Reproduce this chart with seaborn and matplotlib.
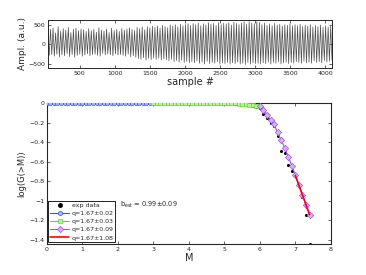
import numpy as np
import matplotlib
matplotlib.use("Agg")
import matplotlib.pyplot as plt
import seaborn as sns

# --- top panel: waveform, alternating peak / trough amplitudes
amp = [
    310, -280, 380, -260, 420, -300, 290, -250, 450, -320, 340, -270, 400, -290, 360, -240,
    430, -310, 300, -260, 380, -330, 410, -280, 350, -250, 390, -300,
    370, -270, 330, -240, 400, -290, 350, -260, 380, -250, 310, -280, 420, -300, 360, -230,
    340, -270, 390, -250, 300, -260, 410, -290, 350, -240, 380, -270,
    330, -260, 400, -280, 360, -300, 390, -250, 420, -320, 380, -290, 350, -330, 430, -360,
    400, -380, 440, -340, 370, -400, 450, -360, 420, -390, 460, -350,
    430, -380, 470, -350, 410, -400, 480, -370, 450, -390, 420, -420, 490, -380, 460, -440,
    500, -410, 440, -450, 510, -400, 470, -460, 500, -430, 520, -470,
    480, -440, 530, -470, 500, -420, 540, -480, 470, -450, 520, -500, 490, -430, 550, -490,
    510, -460, 530, -480, 480, -440, 550, -500, 500, -470, 540, -490,
    520, -460, 550, -500, 490, -470, 560, -490, 530, -450, 500, -500, 540, -480, 570, -510,
    510, -460, 580, -500, 540, -470, 520, -490, 570, -480, 560, -500,
    500, -470, 540, -490, 480, -450, 520, -500, 470, -460, 530, -480, 490, -440, 510, -500,
    460, -470, 500, -450, 480, -490, 520, -460, 470, -480, 500, -440,
    470, -460, 510, -480, 450, -430, 490, -470, 460, -450, 500, -480, 440, -420, 480, -460,
    450, -440, 490, -470, 430, -410, 470, -450, 440, -430, 460, -400,
]
sample_start, sample_end = 50, 4096

# --- bottom panel: log(G(>M)) vs M
m_blue = [0.0, 0.1, 0.2, 0.3, 0.4, 0.5, 0.6, 0.7, 0.8, 0.9,
          1.0, 1.1, 1.2, 1.3, 1.4, 1.5, 1.6, 1.7, 1.8, 1.9,
          2.0, 2.1, 2.2, 2.3, 2.4, 2.5, 2.6, 2.7, 2.8, 2.9]
g_blue = [0.0] * 30
m_green = [3.0, 3.1, 3.2, 3.3, 3.4, 3.5, 3.6, 3.7, 3.8, 3.9,
           4.0, 4.1, 4.2, 4.3, 4.4, 4.5, 4.6, 4.7, 4.8, 4.9,
           5.0, 5.1, 5.2, 5.3, 5.4, 5.5, 5.6, 5.7, 5.8, 5.9]
g_green = [0.0, 0.0, 0.0, 0.0, 0.0, 0.0, 0.0, 0.0, 0.0, 0.0,
           0.0, 0.0, 0.0, 0.0, 0.0, 0.0, 0.0, 0.0, 0.0, 0.0,
           -0.001, -0.002, -0.003, -0.005, -0.007, -0.010, -0.013, -0.017, -0.022, -0.028]
m_purple = [6.0, 6.1, 6.2, 6.3, 6.4, 6.5, 6.6, 6.7, 6.8, 6.9, 7.0, 7.1, 7.2, 7.3, 7.4]
g_purple = [-0.03, -0.07, -0.12, -0.17, -0.22, -0.30, -0.38, -0.46, -0.55, -0.64,
            -0.74, -0.84, -0.94, -1.04, -1.14]
m_red = [7.0, 7.4]
g_red = [-0.74, -1.14]
m_exp = m_blue + m_green + m_purple
g_exp = ([0.0] * 30 + [0.0] * 21 +
         [-0.002, -0.004, -0.006, -0.008, -0.012, -0.015, -0.020, -0.030, -0.040,
          -0.05, -0.11, -0.15, -0.20, -0.24, -0.34, -0.49, -0.51, -0.63, -0.69,
          -0.74, -0.85, -0.96, -1.14, -1.44])

labels = ["exp data", "q=1.67\u00b10.02", "q=1.67\u00b10.03", "q=1.67\u00b10.09", "q=1.67\u00b11.08"]
b_text = r"b$_{\rm est}$ = 0.99$\pm$0.09"

sns.set_style("ticks")
plt.rcParams["font.family"] = ["DejaVu Sans"]
plt.rcParams["xtick.direction"] = "in"
plt.rcParams["ytick.direction"] = "in"

fig = plt.figure(figsize=(3.66, 2.75), dpi=100)

# top waveform
ax1 = fig.add_axes([0.131, 0.753, 0.776, 0.1745])
xs = np.linspace(sample_start, sample_end, len(amp))
sns.lineplot(x=xs, y=amp, ax=ax1, sort=False, estimator=None, color="0.3", linewidth=0.5)
ax1.set_xlim(sample_start, sample_end)
ax1.set_ylim(-600, 620)
ax1.set_xticks([500, 1000, 1500, 2000, 2500, 3000, 3500, 4000])
ax1.set_yticks([-500, 0, 500])
ax1.tick_params(labelsize=4.5, length=2, width=0.5, top=True, right=True, pad=2)
ax1.set_xlabel("sample #", fontsize=7, labelpad=1)
ax1.set_ylabel("Ampl. (a.u.)", fontsize=6.5, labelpad=1)
for s in ax1.spines.values():
    s.set_linewidth(0.7)

# bottom distribution
ax2 = fig.add_axes([0.128, 0.1127, 0.776, 0.513])
sns.scatterplot(x=m_exp, y=g_exp, ax=ax2, color="black", s=5, linewidth=0, zorder=2)
sns.lineplot(x=m_blue, y=g_blue, ax=ax2, color="#3355ee", linewidth=0.8, marker="o",
             markersize=3, markerfacecolor="#aab8ff", markeredgecolor="#3355ee",
             markeredgewidth=0.5, zorder=3)
sns.lineplot(x=m_green, y=g_green, ax=ax2, color="#55dd22", linewidth=0.8, marker="s",
             markersize=2.8, markerfacecolor="#bbf29a", markeredgecolor="#55dd22",
             markeredgewidth=0.5, zorder=3)
sns.lineplot(x=m_purple, y=g_purple, ax=ax2, color="#a050ee", linewidth=0.8, marker="D",
             markersize=3.2, markerfacecolor="#d6b0f7", markeredgecolor="#a050ee",
             markeredgewidth=0.5, zorder=3)
sns.lineplot(x=m_red, y=g_red, ax=ax2, color="red", linewidth=1.2, zorder=4)

lines = ax2.get_lines()
handles = [plt.Line2D([], [], color="black", marker="o", markersize=2.5, linestyle="none")] + list(lines[:4])
leg = ax2.legend(handles, labels, loc="lower left", fontsize=4.5, frameon=True, fancybox=False,
                 edgecolor="black", framealpha=1, handlelength=3.0, borderpad=0.3,
                 labelspacing=0.45, handletextpad=0.4, borderaxespad=0.25)
leg.get_frame().set_linewidth(0.6)
ax2.text(0.257, 0.262, b_text, transform=ax2.transAxes, fontsize=4.8)

ax2.set_xlim(0, 8)
ax2.set_ylim(-1.44, 0.0)
ax2.set_xticks(range(0, 9))
ax2.set_yticks([-1.4, -1.2, -1.0, -0.8, -0.6, -0.4, -0.2, 0])
ax2.set_yticklabels(["\u22121.4", "\u22121.2", "\u22121", "\u22120.8", "\u22120.6", "\u22120.4", "\u22120.2", "0"])
ax2.tick_params(labelsize=4.5, length=2, width=0.5, top=True, right=True, pad=2)
ax2.set_xlabel("M", fontsize=7, labelpad=1)
ax2.set_ylabel("log(G(>M))", fontsize=6, labelpad=2)
for s in ax2.spines.values():
    s.set_linewidth(0.8)

fig.savefig("out.png", dpi=100)
